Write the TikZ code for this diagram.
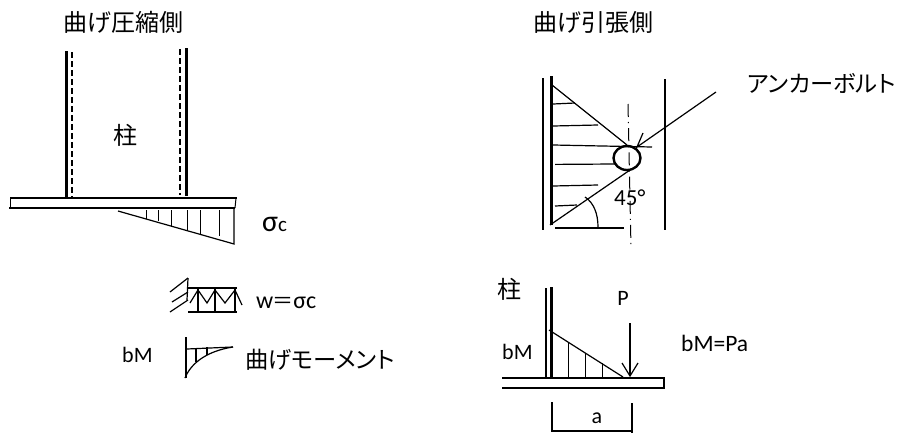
\documentclass[tikz,border=0pt]{standalone}
\usepackage{fontspec}
\setmainfont{Carlito}
\newfontfamily\jp{Noto Sans CJK JP}
\newfontfamily\jpp[RawFeature=+palt]{Noto Sans CJK JP}
\usetikzlibrary{shapes.geometric}
\tikzset{
  ln/.style={line width=1.2pt,black},
  thin ln/.style={line width=1pt,black},
  thick ln/.style={line width=3pt,black},
  dash ln/.style={line width=1.2pt,black,dash pattern=on 6pt off 3pt},
  cl/.style={line width=1pt,black,dash pattern=on 13pt off 5pt on 1.2pt off 5pt},
  jt/.style={inner sep=0pt,font=\jp\fontsize{24}{24}\selectfont},
  jm/.style={inner sep=0pt,anchor=west,font=\jpp\fontsize{23.3}{23.3}\selectfont},
  lt/.style={inner sep=0pt,font=\fontsize{22}{22}\selectfont},
}
\begin{document}
\begin{tikzpicture}[x=1pt,y=-1pt]
\useasboundingbox (0,0) rectangle (897,434);
% titles
\node[jt] (t1) at (123,22) {曲げ圧縮側};
\node[jt] (t2) at (593,22) {曲げ引張側};
% left column
\draw[thick ln] (66,51) -- (66,198);
\draw[dash ln] (72,52) -- (72,197);
\draw[dash ln] (180,49) -- (180,195);
\draw[thick ln] (186,48) -- (186,196);
\node[jt] (c1) at (125,135) {柱};
% plate
\draw[ln] (10,198) -- (237,198);
\draw[ln] (9,208) -- (235,208);
\draw[ln] (10.5,198) -- (10.5,208);
\draw[thin ln] (236,198) -- (235,208);
% stress wedge
\draw[ln] (118,211) -- (234,244) -- (234,208);
\foreach \x/\y in {146/219,158/221,171.5/226,187/230,200/234,219/236}
  \draw[thin ln] (\x,210) -- (\x,\y);
\node[inner sep=0pt,anchor=west] (s) at (262,224) {\fontsize{30}{30}\selectfont σ\fontsize{21}{21}\selectfont c};
% load
\draw[ln] (188,278) -- (187,300);
\draw[ln] (170,292) -- (188,278);
\draw[ln] (172,302) -- (188,292);
\draw[ln] (170,312) -- (188,300);
\draw[ln] (188,288) -- (237,288);
\draw[ln] (188,312) -- (237,312);
\foreach \x in {198,215,235} \draw[ln] (\x,289) -- (\x,311);
\draw[ln] (190,303) -- (198,290) -- (207,303) -- (215,290) -- (225,303) -- (235,290) -- (242,305);
\node[inner sep=0pt,anchor=west] (w) at (256,303) {\fontsize{24}{24}\selectfont w\hspace{-1pt}{\jp\fontsize{21}{21}\selectfont ＝}σc};
% moment
\node[lt,anchor=west] (bm1) at (122,355) {bM};
\draw[ln] (186,337) -- (186,378);
\draw[ln] (187,349) -- (233,347);
\draw[ln] (185,378) .. controls (191,363) and (207,351) .. (233,347);
\draw[ln] (196,349) -- (196,362);
\draw[ln] (207,347) -- (207,355);
\node[jm] (mom) at (245,360) {曲げモーメント};
% right upper
\draw[ln] (543,78) -- (543,230);
\draw[thick ln] (551,76) -- (551,225);
\draw[ln] (665,79) -- (665,230);
\draw[ln] (552,85) -- (627,145);
\draw[ln] (550,225) -- (630,170);
\foreach \a/\b/\c/\d in {553/104/575/103,553/126/598/125,553/145/652/147,555/164.4/615/164,553/186/598/185,555/206/577/205,555/228/624/228}
  \draw[ln] (\a,\b) -- (\c,\d);
\draw[cl] (628,104) -- (631,248);
\node[draw,line width=2.4pt,ellipse,minimum width=27pt,minimum height=24pt,inner sep=0pt] (bolt) at (627,158) {};
\draw[ln] (716,92) -- (637,147) -- (643,133);
\draw[ln] (585,197) .. controls (594,203) and (598,214) .. (598,227);
\node[lt,anchor=west] (deg) at (614,198) {\fontsize{23}{23}\selectfont 45°};
\node[jm] (anc) at (747,83) {アンカーボルト};
% right lower
\node[jt] (c2) at (509,289) {柱};
\node[lt] (p) at (623,298) {P};
\draw[ln] (546,288) -- (546,377);
\draw[thick ln] (551,287) -- (551,377);
\draw[ln] (502,378) -- (664,378) -- (664,388) -- (502,388);
\draw[ln] (549,330) -- (623,377);
\draw[thin ln] (568,343) -- (568,378);
\draw[thin ln] (585.5,353) -- (585.5,378);
\draw[thin ln] (602,363) -- (602,378);
\draw[ln] (630,323) -- (630,376);
\draw[ln] (622,363) -- (630,376) -- (638,363);
\draw[ln] (552,402) -- (552,431) -- (632,431);
\draw[ln] (632,403) -- (632,433);
\node[lt] (a) at (597,418) {a};
\node[lt,anchor=west] (bm2) at (502,352) {bM};
\node[lt,anchor=west,font=\fontsize{23.5}{23.5}\selectfont] (eq) at (681,343) {bM=Pa};
\end{tikzpicture}
\end{document}
